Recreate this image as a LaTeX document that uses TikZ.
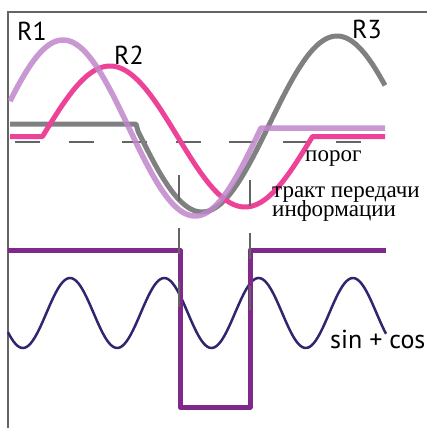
\documentclass[tikz,border=0pt]{standalone}
\usepackage{fontspec}
\setmainfont{Liberation Serif}
\newfontfamily\labelfont{PT Sans}
\usepackage{xcolor}
\usetikzlibrary{positioning}
\definecolor{SigGray}{RGB}{128,128,130}
\definecolor{SigPink}{RGB}{236,66,152}
\definecolor{SigLilac}{RGB}{192,134,202}
\definecolor{SqPurple}{RGB}{128,40,140}
\definecolor{WaveNavy}{RGB}{48,38,112}
\definecolor{RuleGray}{RGB}{100,100,100}
\tikzset{
  frame/.style={draw=RuleGray, line width=1.5pt},
  sig/.style={line width=5pt, line join=round},
  sigR1/.style={sig, draw=SigLilac, line width=5.5pt, draw opacity=0.85},
  sigR2/.style={sig, draw=SigPink},
  sigR3/.style={sig, draw=SigGray},
  sqwave/.style={line width=5pt, draw=SqPurple, line join=round},
  carrier/.style={line width=2.5pt, draw=WaveNavy},
  thresh/.style={draw=RuleGray, line width=2.2pt, dash pattern=on 25pt off 28.5pt},
  gate/.style={draw=RuleGray, line width=2.5pt, dash pattern=on 26pt off 27pt},
  rlab/.style={font={\labelfont\fontsize{26pt}{26pt}\selectfont}, inner sep=0pt, anchor=base west},
  txt/.style={font={\fontsize{23pt}{19pt}\selectfont\lineskiplimit=-30pt}, inner sep=0pt, anchor=base west},
}

\begin{document}
\begin{tikzpicture}[x=1pt, y=-1pt]
  \useasboundingbox (0,0) rectangle (427,428);
  % frame
  \draw[frame] (8,428) -- (8,12) -- (427,12);
  % threshold
  \draw[thresh] (15,142) -- (362,142);
  % signals R3, R2, R1
  \draw[sigR3] (10,124) -- (136,124) -- plot[domain=138:385, samples=120]
    (\x, {124 + 88*sin((\x-134.5)/135*180)});
  \draw[sigR2] (10,136.5) -- plot[domain=42.5:312.5, samples=120]
    (\x, {136.5 - 70.5*sin((\x-42.5)/135*180)}) -- (385,136.5);
  \draw[sigR1] plot[domain=10:261, samples=120]
    (\x, {128 - 88*cos((\x-63)/132*180)}) -- (385,128);
  % carrier
  \draw[carrier] plot[domain=8:386, samples=200]
    (\x, {313 - 35*cos((\x-70)/94.3*360)});
  % square wave
  \draw[sqwave] (8,250) -- (180,250) -- (180,407) -- (250,407) -- (250,250) -- (386,250);
  % gate markers
  \foreach \gx/\gy in {179/175, 250/180}
    \draw[gate] (\gx,\gy) -- (\gx,310);
  % labels
  \node[rlab] (r1) at (17,41) {R1};
  \node[rlab] (r2) at (114,65) {R2};
  \node[rlab] (r3) at (352,38) {R3};
  \node[txt] (porog) at (305,161) {порог};
  \node[txt, align=left] (trakt) at (272,216) {тракт передачи\\информации};
  \node[rlab] (sincos) at (330,348) {sin + cos};
\end{tikzpicture}
\end{document}
